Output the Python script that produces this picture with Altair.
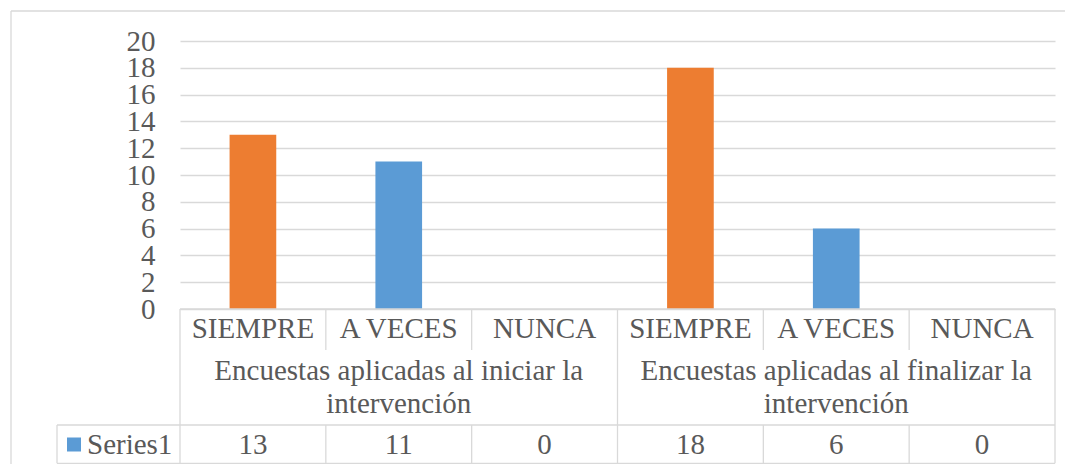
import altair as alt
import pandas as pd

# ---------------- data ----------------
categories = ["SIEMPRE", "A VECES", "NUNCA", "SIEMPRE", "A VECES", "NUNCA"]
values = [13, 11, 0, 18, 6, 0]
groups = ["Encuestas aplicadas al iniciar la\nintervención",
          "Encuestas aplicadas al finalizar la\nintervención"]
series_name = "Series1"
y_ticks = [0, 2, 4, 6, 8, 10, 12, 14, 16, 18, 20]
color_domain = ["SIEMPRE", "A VECES", "NUNCA"]
color_range = ["#ED7D31", "#5B9BD5", "#A5A5A5"]
legend_color = "#5B9BD5"

# ---------------- layout (in scale units) ----------------
PX_W, PX_H = 875, 423
PX_PER_Y = 13.4                      # px per y unit
Y_MAX = 20
Y_MIN = -155 / PX_PER_Y              # bottom of the plot area
TABLE_BOTTOM = -154.3 / PX_PER_Y
ROW1_BOTTOM = -41 / PX_PER_Y
ROW2_BOTTOM = -116 / PX_PER_Y
PX_PER_X = PX_W / 6
LEG_LEFT = -123 / PX_PER_X
FRAME_LEFT = -169 / PX_PER_X
FRAME_RIGHT = 885 / PX_PER_X
FRAME_TOP = Y_MAX + 30 / PX_PER_Y
FRAME_BOTTOM = -163 / PX_PER_Y
CAT_Y = -20 / PX_PER_Y
GROUP_Y = -61.5 / PX_PER_Y
VAL_Y = -135.5 / PX_PER_Y
LEG_SQ_X = -106 / PX_PER_X
LEG_TXT_X = -93 / PX_PER_X

FONT = "Liberation Serif"
TXT = "#595959"
GRID = "#d9d9d9"
FS = 29

xs = alt.Scale(domain=[0, 6], nice=False, zero=False)
ys = alt.Scale(domain=[Y_MIN, Y_MAX], nice=False, zero=False)
y_axis = alt.Axis(
    values=y_ticks, grid=True, domain=False, ticks=False, title=None,
    labelFontSize=FS, labelFont=FONT, labelColor=TXT, labelPadding=25,
    labelOverlap=False, labelBound=False, labelFlush=False,
    gridColor=GRID, gridWidth=1.3)


def X(f, **kw):
    return alt.X(f, type="quantitative", scale=xs, axis=None, **kw)


def Y(f, **kw):
    return alt.Y(f, type="quantitative", scale=ys, axis=y_axis, **kw)


n = len(categories)
bars = pd.DataFrame({
    "idx": list(range(n)),
    "cat": categories,
    "value": values,
})
bars["x0"] = bars["idx"] + 0.34
bars["x1"] = bars["idx"] + 0.66
bars["xc"] = bars["idx"] + 0.5
bars["cy"] = CAT_Y
bars["vy"] = VAL_Y
bars["zero"] = 0

grp = pd.DataFrame({"label": groups, "gx": [1.5, 4.5], "gy": [GROUP_Y, GROUP_Y]})

# table grid segments
segs = []
segs.append((0, 6, 0, 0))
segs.append((LEG_LEFT, 6, ROW2_BOTTOM, ROW2_BOTTOM))
segs.append((LEG_LEFT, 6, TABLE_BOTTOM, TABLE_BOTTOM))
for gx in [0, 3, 6]:
    segs.append((gx, gx, 0, TABLE_BOTTOM))
for cx in [1, 2, 4, 5]:
    segs.append((cx, cx, 0, ROW1_BOTTOM))
    segs.append((cx, cx, ROW2_BOTTOM, TABLE_BOTTOM))
segs.append((LEG_LEFT, LEG_LEFT, ROW2_BOTTOM, TABLE_BOTTOM))
segs.append((FRAME_LEFT, FRAME_RIGHT, FRAME_TOP, FRAME_TOP))
segs.append((FRAME_LEFT, FRAME_LEFT, FRAME_TOP, FRAME_BOTTOM))
lines = pd.DataFrame(segs, columns=["x", "x2", "y", "y2"])

leg = pd.DataFrame({"name": [series_name], "sx": [LEG_SQ_X], "tx": [LEG_TXT_X], "y": [VAL_Y]})

bar_layer = alt.Chart(bars).mark_bar().encode(
    x=X("x0"), x2=alt.X2("x1"),
    y=Y("value"),
    y2=alt.Y2("zero"),
    color=alt.Color("cat:N", scale=alt.Scale(domain=color_domain, range=color_range), legend=None),
)

line_layer = alt.Chart(lines).mark_rule(color=GRID, strokeWidth=1.3).encode(
    x=X("x"), x2=alt.X2("x2"), y=Y("y"), y2=alt.Y2("y2"))

cat_text = alt.Chart(bars).mark_text(font=FONT, fontSize=FS, color=TXT, baseline="middle").encode(
    x=X("xc"), y=Y("cy"), text="cat:N")

val_text = alt.Chart(bars).mark_text(font=FONT, fontSize=FS, color=TXT, baseline="middle").encode(
    x=X("xc"), y=Y("vy"), text="value:Q")

grp_text = alt.Chart(grp).mark_text(font=FONT, fontSize=FS, color=TXT, baseline="middle",
                                    lineBreak="\n", lineHeight=33).encode(
    x=X("gx"), y=Y("gy"), text="label:N")

leg_sq = alt.Chart(leg).mark_square(size=196, color=legend_color, opacity=1, filled=True).encode(
    x=X("sx"), y=Y("y"))

leg_txt = alt.Chart(leg).mark_text(font=FONT, fontSize=FS, color=TXT, baseline="middle", align="left").encode(
    x=X("tx"), y=Y("y"), text="name:N")

chart = alt.layer(bar_layer, line_layer, cat_text, val_text, grp_text, leg_sq, leg_txt).properties(
    width=PX_W, height=PX_H,
    autosize=alt.AutoSizeParams(type="none"),
    padding={"left": 172, "top": 33, "right": 10, "bottom": 0},
    background="white",
).configure_view(stroke=None)

chart.save("out.html", embed_options={"renderer": "svg", "actions": False})
